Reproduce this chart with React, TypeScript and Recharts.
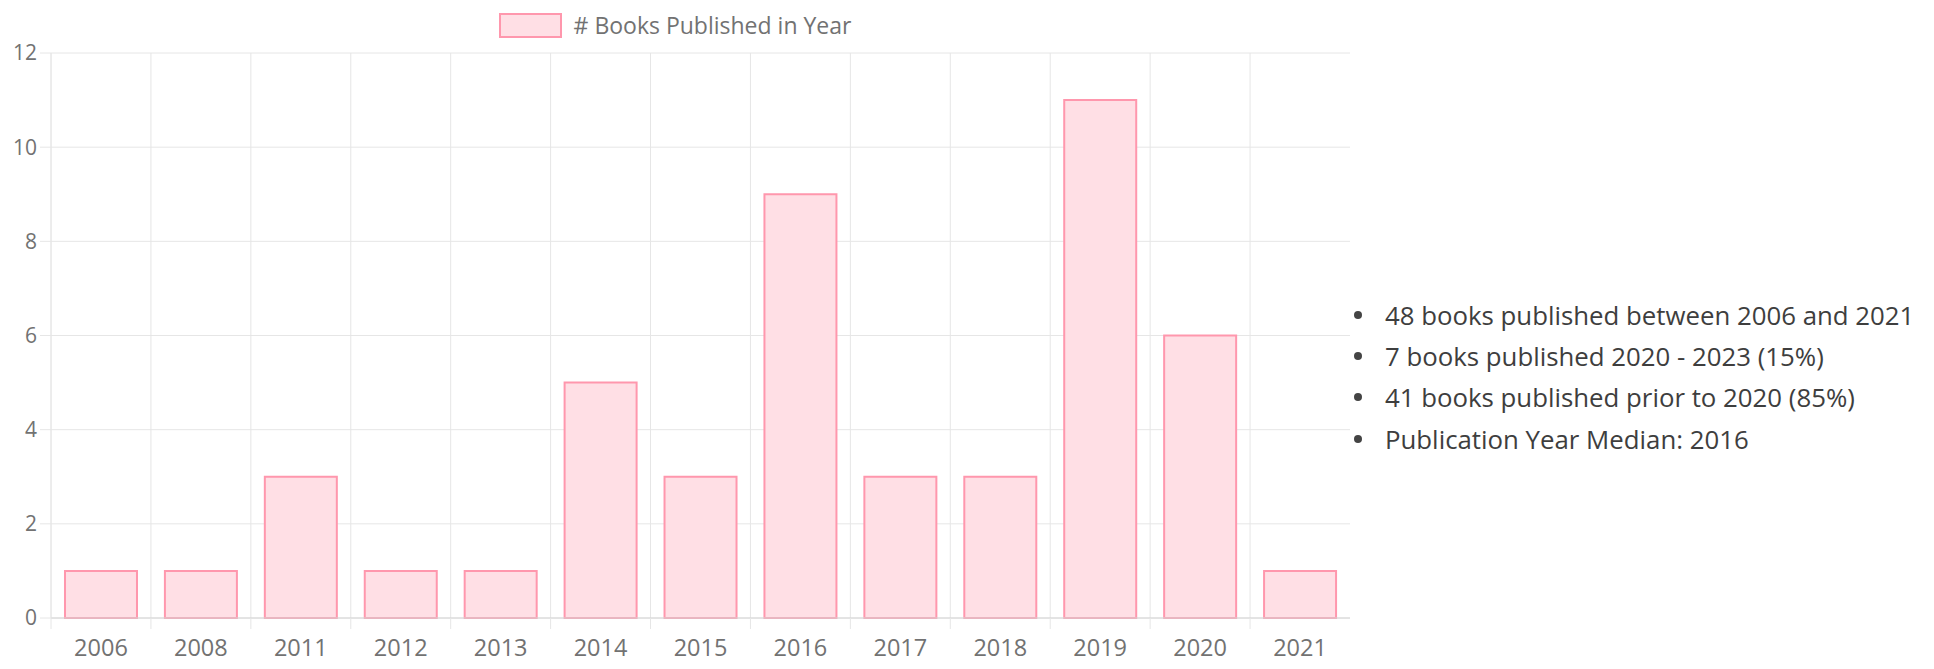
import React from "react";
import { BarChart, Bar, XAxis, YAxis, CartesianGrid, Legend } from "recharts";

const years = ["2006", "2008", "2011", "2012", "2013", "2014", "2015", "2016", "2017", "2018", "2019", "2020", "2021"];
const booksPerYear = [1, 1, 3, 1, 1, 5, 3, 9, 3, 3, 11, 6, 1];
const yTicks = [0, 2, 4, 6, 8, 10, 12];
const seriesName = "# Books Published in Year";
const notes = [
  "48 books published between 2006 and 2021",
  "7 books published 2020 - 2023 (15%)",
  "41 books published prior to 2020 (85%)",
  "Publication Year Median: 2016",
];

const data = years.map((year, i) => ({ year, count: booksPerYear[i] }));

const CHART_W = 1360;
const CHART_H = 669;
const MARGIN = { top: 13, right: 10, bottom: 0, left: 0 };
const Y_AXIS_W = 51;
const X_AXIS_H = 51;
const BAND = (CHART_W - MARGIN.left - MARGIN.right - Y_AXIS_W) / years.length;

const GRID = "#e6e6e6";
const TEXT = "#727272";
const BAR_FILL = "#ffdfe5";
const BAR_STROKE = "#ff97ad";
const FONT = "'Open Sans', sans-serif";

function XTick(props: any) {
  const { x, y, payload } = props;
  const bx = x - BAND / 2;
  return (
    <g>
      <line x1={bx} x2={bx} y1={y} y2={y + 11} stroke={GRID} />
      <text x={x} y={y + 29} textAnchor="middle" dominantBaseline="central" fill={TEXT} fontSize={23.5} fontFamily={FONT}>
        {payload.value}
      </text>
    </g>
  );
}

function LegendContent() {
  return (
    <div style={{ display: "flex", justifyContent: "center", alignItems: "flex-start", height: 40 }}>
      <div style={{ width: 59, height: 21, background: BAR_FILL, border: `2px solid ${BAR_STROKE}` }} />
      <span style={{ marginLeft: 12, color: TEXT, fontSize: 23, fontFamily: FONT, lineHeight: "24px" }}>{seriesName}</span>
    </div>
  );
}

export default function App() {
  return (
    <div style={{ position: "fixed", top: 0, left: 0, width: 1934, height: 669, background: "#fff" }}>
      <BarChart width={CHART_W} height={CHART_H} data={data} margin={MARGIN} barCategoryGap="14%">
        <CartesianGrid
          stroke={GRID}
          verticalCoordinatesGenerator={({ offset }: any) =>
            years.map((_, i) => offset.left + (i * offset.width) / years.length)
          }
        />
        <XAxis
          dataKey="year"
          height={X_AXIS_H}
          tickSize={0}
          tickMargin={0}
          axisLine={{ stroke: "#d4d4d4" }}
          tick={<XTick />}
          interval={0}
        />
        <YAxis
          width={Y_AXIS_W}
          domain={[0, 12]}
          ticks={yTicks}
          tickSize={11}
          tickMargin={3}
          axisLine={{ stroke: GRID }}
          tickLine={{ stroke: GRID }}
          tick={{ fill: TEXT, fontSize: 21, fontFamily: FONT }}
        />
        <Legend verticalAlign="top" content={<LegendContent />} />
        <Bar
          dataKey="count"
          name={seriesName}
          fill={BAR_FILL}
          stroke={BAR_STROKE}
          strokeWidth={2}
          isAnimationActive={false}
        />
      </BarChart>
      <div style={{ position: "absolute", left: 1350, top: 294, fontFamily: FONT, fontSize: 25.8, color: "#3e3e3e" }}>
        {notes.map((n) => (
          <div key={n} style={{ display: "flex", alignItems: "center", height: 41.3, whiteSpace: "nowrap" }}>
            <span style={{ display: "inline-block", width: 8, height: 8, borderRadius: 4, background: "#444", marginLeft: 4, marginRight: 23 }} />
            <span>{n}</span>
          </div>
        ))}
      </div>
    </div>
  );
}
